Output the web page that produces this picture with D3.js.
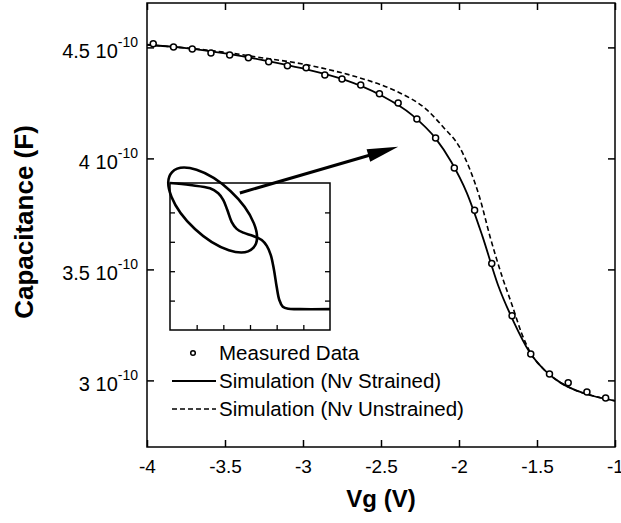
<!DOCTYPE html>
<html>
<head>
<meta charset="utf-8">
<script src="https://cdn.jsdelivr.net/npm/d3@7"></script>
<style>
  body { margin: 0; background: #fff; }
  text { font-family: "Liberation Sans", Arial, sans-serif; fill: #000; }
</style>
</head>
<body>
<div id="chart"></div>
<script>
// capacitance values are in units of 1e-10 F
var measuredV = [-3.96, -3.83, -3.71, -3.59, -3.47, -3.35, -3.22, -3.10, -2.98, -2.86, -2.75, -2.63, -2.51,
                 -2.39, -2.27, -2.15, -2.03, -1.90, -1.79, -1.66, -1.54, -1.42, -1.30, -1.18, -1.06];
var measuredC = [4.516, 4.502, 4.493, 4.475, 4.466, 4.453, 4.435, 4.417, 4.408, 4.376, 4.358, 4.331, 4.291,
                 4.250, 4.178, 4.092, 3.957, 3.766, 3.527, 3.291, 3.119, 3.029, 2.989, 2.948, 2.921];

var strainedV = [-4, -3.75, -3.5, -3.25, -3, -2.75, -2.5, -2.3, -2.15, -2.05, -1.95, -1.85, -1.75, -1.65,
                 -1.55, -1.45, -1.35, -1.25, -1.15, -1];
var strainedC = [4.512, 4.497, 4.473, 4.442, 4.405, 4.358, 4.284, 4.195, 4.09, 3.985, 3.845, 3.65, 3.43, 3.265,
                 3.13, 3.045, 2.99, 2.955, 2.932, 2.908];

var unstrainedV = [-4, -3.5, -3.25, -3, -2.8, -2.6, -2.4, -2.2, -2.1, -2.0, -1.93, -1.87, -1.8, -1.72, -1.66,
                   -1.6, -1.55, -1.45, -1.35, -1.25, -1.15, -1];
var unstrainedC = [4.512, 4.478, 4.452, 4.425, 4.394, 4.355, 4.302, 4.215, 4.14, 4.055, 3.95, 3.83, 3.645, 3.46,
                   3.34, 3.215, 3.135, 3.045, 2.99, 2.955, 2.932, 2.908];

var xTicks = [-4, -3.5, -3, -2.5, -2, -1.5, -1];
var yTicks = [3, 3.5, 4, 4.5];
var legendLabels = ["Measured Data", "Simulation (Nv Strained)", "Simulation (Nv Unstrained)"];

// inset sketch, arbitrary units
var insetX = [0, 0.75, 1.5, 1.81, 2.0, 2.15, 2.31, 2.5, 2.75, 3.12, 3.44, 3.63, 3.78, 3.9, 4.0, 4.1, 4.23, 4.44, 4.87, 6];
var insetY = [5.0, 4.93, 4.82, 4.65, 4.42, 4.08, 3.68, 3.44, 3.31, 3.2, 3.06, 2.86, 2.55, 2.04, 1.47, 1.02, 0.79, 0.72, 0.71, 0.71];

var width = 621, height = 523;

var svg = d3.select("#chart").append("svg")
    .attr("width", width)
    .attr("height", height);

var x = d3.scaleLinear().domain([-4, -1]).range([147, 615]);
var y = d3.scaleLinear().domain([2.7, 4.7]).range([447, 3]);

//axes, ticks pointing inward
svg.append("g")
    .attr("transform", "translate(0,447)")
    .call(d3.axisBottom(x).tickValues(xTicks).tickSize(-7).tickPadding(13)
        .tickFormat(function(d) { return String(d); }))
    .call(function(g) {
        g.select(".domain").remove();
        g.selectAll("text").attr("font-size", 19).attr("font-family", null);
        g.selectAll("line").attr("stroke-width", 1.5);
    });

svg.append("g")
    .attr("transform", "translate(0,3)")
    .call(d3.axisTop(x).tickValues(xTicks).tickSize(-7).tickFormat(""))
    .call(function(g) { g.select(".domain").remove(); g.selectAll("line").attr("stroke-width", 1.5); });

svg.append("g")
    .attr("transform", "translate(615,0)")
    .call(d3.axisRight(y).tickValues(yTicks).tickSize(-7).tickFormat(""))
    .call(function(g) { g.select(".domain").remove(); g.selectAll("line").attr("stroke-width", 1.5); });

var yAxis = svg.append("g")
    .attr("transform", "translate(147,0)")
    .call(d3.axisLeft(y).tickValues(yTicks).tickSize(-7).tickFormat(""))
    .call(function(g) { g.select(".domain").remove(); g.selectAll("line").attr("stroke-width", 1.5); });

yAxis.selectAll(".tick").each(function(d) {
    var t = d3.select(this).append("text")
        .attr("x", -9)
        .attr("y", 10)
        .attr("text-anchor", "end")
        .attr("font-size", 20)
        .attr("fill", "#000");
    t.append("tspan").text(d + " 10");
    t.append("tspan").attr("dy", -11).attr("font-size", 14).text("-10");
});

svg.append("rect")
    .attr("x", 147).attr("y", 3)
    .attr("width", 468).attr("height", 444)
    .attr("fill", "none")
    .attr("stroke", "#000")
    .attr("stroke-width", 1.5);

//axis titles
svg.append("text")
    .attr("x", 381).attr("y", 507)
    .attr("text-anchor", "middle")
    .attr("font-size", 24)
    .attr("font-weight", "bold")
    .text("Vg (V)");

svg.append("text")
    .attr("transform", "translate(33,222) rotate(-90)")
    .attr("text-anchor", "middle")
    .attr("font-size", 26)
    .attr("font-weight", "bold")
    .text("Capacitance (F)");

//curves
var line = d3.line()
    .x(function(d) { return x(d[0]); })
    .y(function(d) { return y(d[1]); })
    .curve(d3.curveMonotoneX);

svg.append("path")
    .datum(d3.zip(unstrainedV, unstrainedC))
    .attr("d", line)
    .attr("fill", "none")
    .attr("stroke", "#000")
    .attr("stroke-width", 1.6)
    .attr("stroke-dasharray", "5,3");

svg.append("path")
    .datum(d3.zip(strainedV, strainedC))
    .attr("d", line)
    .attr("fill", "none")
    .attr("stroke", "#000")
    .attr("stroke-width", 1.8);

svg.selectAll("circle.meas")
    .data(d3.zip(measuredV, measuredC))
    .enter()
    .append("circle")
    .attr("class", "meas")
    .attr("cx", function(d) { return x(d[0]); })
    .attr("cy", function(d) { return y(d[1]); })
    .attr("r", 3)
    .attr("fill", "#fff")
    .attr("stroke", "#000")
    .attr("stroke-width", 1.5);

//inset
var xi = d3.scaleLinear().domain([0, 6]).range([170, 330]);
var yi = d3.scaleLinear().domain([0, 5]).range([330, 183]);

var inset = svg.append("g");
inset.append("g")
    .attr("transform", "translate(0,330)")
    .call(d3.axisBottom(xi).tickValues([1, 2, 3, 4, 5]).tickSize(-5).tickFormat(""));
inset.append("g")
    .attr("transform", "translate(170,0)")
    .call(d3.axisLeft(yi).tickValues([1, 2, 3, 4]).tickSize(-5).tickFormat(""));
inset.append("g")
    .attr("transform", "translate(330,0)")
    .call(d3.axisRight(yi).tickValues([1, 2, 3, 4]).tickSize(-5).tickFormat(""));
inset.selectAll(".domain").remove();
inset.selectAll("line").attr("stroke-width", 1.3);

inset.append("rect")
    .attr("x", 170).attr("y", 183)
    .attr("width", 160).attr("height", 147)
    .attr("fill", "none")
    .attr("stroke", "#000")
    .attr("stroke-width", 1.5);

inset.append("path")
    .datum(d3.zip(insetX, insetY))
    .attr("d", d3.line()
        .x(function(d) { return xi(d[0]); })
        .y(function(d) { return yi(d[1]); })
        .curve(d3.curveCatmullRom))
    .attr("fill", "none")
    .attr("stroke", "#000")
    .attr("stroke-width", 2.6);

//ellipse round the shoulder of the inset curve
var ellipseCentre = [1.6, 4.08];
inset.append("ellipse")
    .attr("transform", "translate(" + xi(ellipseCentre[0]) + "," + yi(ellipseCentre[1]) + ") rotate(43)")
    .attr("rx", 55.5)
    .attr("ry", 26)
    .attr("fill", "none")
    .attr("stroke", "#000")
    .attr("stroke-width", 2.6);

//arrow from inset to the main curve
var arrowStart = [xi(2.62), yi(4.66)];
var arrowEnd = [x(-2.39), y(4.052)];
var dx = arrowEnd[0] - arrowStart[0], dy = arrowEnd[1] - arrowStart[1];
var len = Math.sqrt(dx * dx + dy * dy);
var ux = dx / len, uy = dy / len;
var headLen = 31, headHalf = 6.5;
var base = [arrowEnd[0] - ux * headLen, arrowEnd[1] - uy * headLen];

svg.append("line")
    .attr("x1", arrowStart[0]).attr("y1", arrowStart[1])
    .attr("x2", base[0] + ux * 2).attr("y2", base[1] + uy * 2)
    .attr("stroke", "#000")
    .attr("stroke-width", 3);

svg.append("polygon")
    .attr("points", [
        arrowEnd,
        [base[0] - uy * headHalf, base[1] + ux * headHalf],
        [base[0] + uy * headHalf, base[1] - ux * headHalf]
    ].map(function(p) { return p.join(","); }).join(" "))
    .attr("fill", "#000");

//legend
var legendX = 172, legendY = 353, legendStep = 28;
var legend = svg.append("g");
legendLabels.forEach(function(label, i) {
    var ly = legendY + i * legendStep;
    if (i === 0) {
        legend.append("circle")
            .attr("cx", legendX + 21).attr("cy", ly)
            .attr("r", 2.3)
            .attr("fill", "#fff")
            .attr("stroke", "#000")
            .attr("stroke-width", 1.5);
    } else {
        legend.append("line")
            .attr("x1", legendX).attr("x2", legendX + 44)
            .attr("y1", ly).attr("y2", ly)
            .attr("stroke", "#000")
            .attr("stroke-width", i === 1 ? 1.8 : 1.6)
            .attr("stroke-dasharray", i === 2 ? "5,3" : null);
    }
    legend.append("text")
        .attr("x", legendX + 47)
        .attr("y", ly + 7)
        .attr("font-size", 20.5)
        .text(label);
});
</script>
</body>
</html>
